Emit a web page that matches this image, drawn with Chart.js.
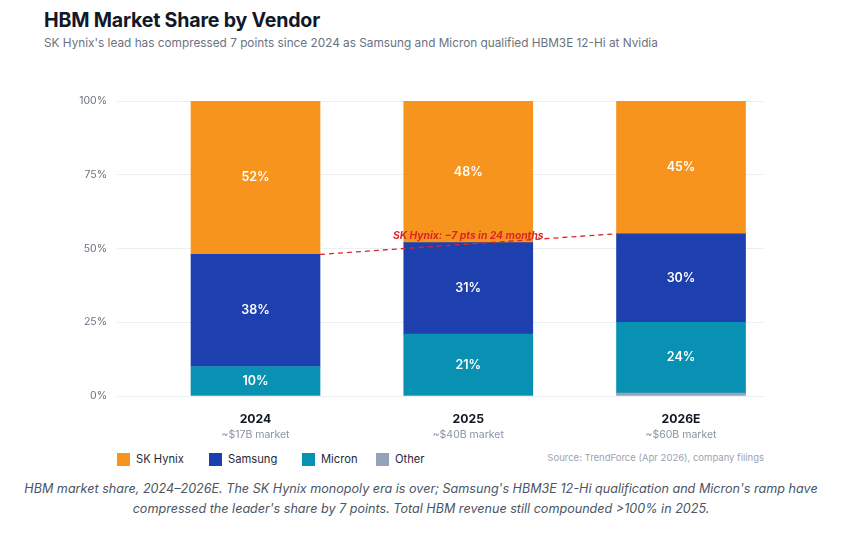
<!DOCTYPE html>
<html>
<head>
<meta charset="utf-8">
<script src="https://cdn.jsdelivr.net/npm/chart.js@4.4.1/dist/chart.umd.min.js"></script>
<style>
  body { margin: 0; background: #fff; font-family: Inter, "Noto Sans", sans-serif; }
  #page { position: relative; width: 842px; height: 535px; overflow: hidden; }
  #title { position: absolute; left: 44px; top: 8px; font-size: 19.6px; line-height: 24px; font-weight: 700; color: #111827; letter-spacing: -0.2px; }
  #subtitle { position: absolute; left: 44px; top: 35px; font-size: 11.8px; line-height: 16px; color: #6b7280; }
  #wrap { position: absolute; left: 0; top: 80px; width: 842px; height: 368px; }
  #legend { position: absolute; left: 0; top: 451px; width: 600px; height: 16px; font-size: 11.2px; color: #1f2937; }
  #legend .item { position: absolute; top: 0; height: 16px; display: flex; align-items: center; white-space: nowrap; }
  #legend .box { width: 13px; height: 13px; margin-right: 6px; box-sizing: border-box; }
  #source { position: absolute; right: 78px; top: 450px; line-height: 16px; font-size: 9.5px; color: #9ca3af; }
  #caption { position: absolute; left: 0; width: 842px; top: 479px; text-align: center; font-size: 12.6px; line-height: 20px; font-style: italic; color: #4b5563; }
</style>
</head>
<body>
<div id="page">
  <div id="title">HBM Market Share by Vendor</div>
  <div id="subtitle">SK Hynix's lead has compressed 7 points since 2024 as Samsung and Micron qualified HBM3E 12-Hi at Nvidia</div>
  <div id="wrap"><canvas id="myChart"></canvas></div>
  <div id="legend"></div>
  <div id="source">Source: TrendForce (Apr 2026), company filings</div>
  <div id="caption">HBM market share, 2024–2026E. The SK Hynix monopoly era is over; Samsung's HBM3E 12-Hi qualification and Micron's ramp have<br>compressed the leader's share by 7 points. Total HBM revenue still compounded &gt;100% in 2025.</div>
</div>
<script>
const years = ['2024', '2025', '2026E']
const markets = ['~$17B market', '~$40B market', '~$60B market']
const skHynix = [52, 48, 45]
const samsung = [38, 31, 30]
const micron = [10, 21, 24]
const other = [0, 0, 1]
const yTicks = [0, 25, 50, 75, 100]
const noteText = 'SK Hynix: \u22127 pts in 24 months'

const colors = {
    'SK Hynix': '#f7941d',
    'Samsung': '#1e40af',
    'Micron': '#0891b2',
    'Other': '#94a3b8',
}
const legendLeft = [117, 209, 302, 376]

const points = (arr) => arr.map((v, i) => ({ x: i, y: v }))

// html legend, top of stack first
const legendEl = document.getElementById('legend')
Object.keys(colors).forEach((name, i) => {
    const item = document.createElement('div')
    item.className = 'item'
    item.style.left = legendLeft[i] + 'px'
    item.innerHTML = '<span class="box" style="background:' + colors[name] + '"></span>' + name
    legendEl.appendChild(item)
})

const segmentLabels = {
    id: 'segmentLabels',
    afterDatasetsDraw(chart) {
        const ctx = chart.ctx
        ctx.save()
        ctx.font = '600 12.5px Inter'
        ctx.fillStyle = '#ffffff'
        ctx.textAlign = 'center'
        ctx.textBaseline = 'middle'
        chart.data.datasets.forEach((ds, di) => {
            if (ds.label === 'Other') return
            chart.getDatasetMeta(di).data.forEach((el, i) => {
                const v = ds.data[i].y
                if (v < 5) return
                ctx.fillText(v + '%', el.x, (el.y + el.base) / 2)
            })
        })
        ctx.restore()
    }
}

const trendNote = {
    id: 'trendNote',
    afterDatasetsDraw(chart) {
        const di = chart.data.datasets.findIndex(d => d.label === 'Samsung')
        const bars = chart.getDatasetMeta(di).data
        const a = bars[0], b = bars[bars.length - 1]
        const x1 = a.x + a.width / 2, y1 = a.y
        const x2 = b.x - b.width / 2, y2 = b.y
        const ctx = chart.ctx
        ctx.save()
        ctx.strokeStyle = '#dc2626'
        ctx.lineWidth = 1.3
        ctx.setLineDash([5, 4])
        ctx.beginPath()
        ctx.moveTo(x1, y1)
        ctx.lineTo(x2, y2)
        ctx.stroke()
        ctx.setLineDash([])
        ctx.font = 'italic 700 10.3px Inter'
        ctx.fillStyle = '#dc2626'
        ctx.textAlign = 'center'
        ctx.textBaseline = 'middle'
        ctx.fillText(noteText, (x1 + x2) / 2, (y1 + y2) / 2 - 8)
        ctx.restore()
    }
}

const fixTicks = (scale) => { scale.ticks = years.map((_, i) => ({ value: i })) }

new Chart('myChart', {
    type: 'bar',
    data: {
        datasets: [
            { label: 'Other', data: points(other), backgroundColor: colors['Other'] },
            { label: 'Micron', data: points(micron), backgroundColor: colors['Micron'] },
            { label: 'Samsung', data: points(samsung), backgroundColor: colors['Samsung'] },
            { label: 'SK Hynix', data: points(skHynix), backgroundColor: colors['SK Hynix'] },
        ],
    },
    options: {
        responsive: true,
        maintainAspectRatio: false,
        animation: false,
        barThickness: 129,
        borderWidth: 0,
        layout: { padding: { top: 21, right: 78, left: 0, bottom: 0 } },
        plugins: {
            legend: { display: false },
            tooltip: { enabled: false },
        },
        scales: {
            x: {
                type: 'linear',
                stacked: true,
                offset: false,
                min: -0.651,
                max: 2.39,
                afterBuildTicks: fixTicks,
                afterFit: (s) => { s.height = 32 },
                grid: { display: false, drawTicks: false, offset: false },
                border: { display: false },
                ticks: {
                    padding: 16,
                    autoSkip: false,
                    maxRotation: 0,
                    color: '#111827',
                    font: { family: 'Inter', size: 12.2, weight: '700' },
                    callback: (v) => years[v],
                },
            },
            x2: {
                type: 'linear',
                position: 'bottom',
                offset: false,
                min: -0.651,
                max: 2.39,
                afterBuildTicks: fixTicks,
                afterFit: (s) => { s.height = 20 },
                grid: { display: false, drawTicks: false, offset: false },
                border: { display: false },
                ticks: {
                    padding: 1,
                    autoSkip: false,
                    maxRotation: 0,
                    color: '#8a94a6',
                    font: { family: 'Inter', size: 10.5 },
                    callback: (v) => markets[v],
                },
            },
            y: {
                stacked: true,
                min: 0,
                max: 100,
                afterBuildTicks: (s) => { s.ticks = yTicks.map(v => ({ value: v })) },
                afterFit: (s) => { s.width = 117 },
                grid: { color: '#eceef4', drawTicks: false },
                border: { display: false },
                ticks: {
                    padding: 10,
                    color: '#6b7280',
                    font: { family: 'Inter', size: 10.5 },
                    callback: (v) => v + '%',
                },
            },
        },
    },
    plugins: [segmentLabels, trendNote],
});
</script>
</body>
</html>
